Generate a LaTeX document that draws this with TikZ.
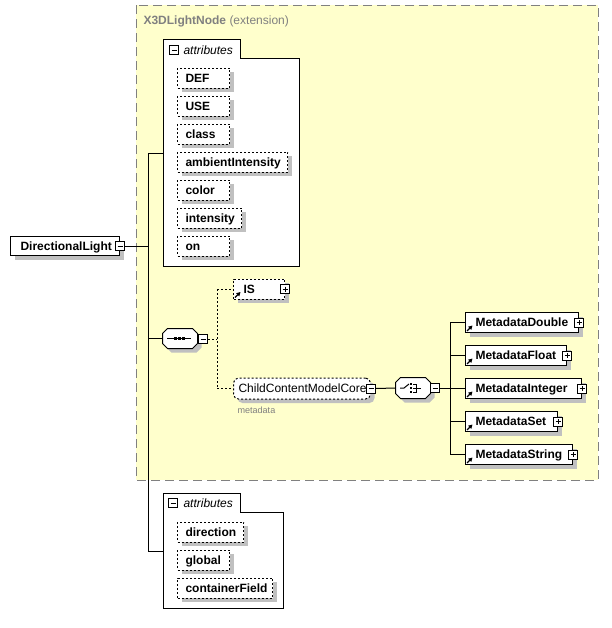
\documentclass[tikz,border=0pt]{standalone}
\usepackage{fontspec}
\setmainfont{Liberation Sans}
\usetikzlibrary{shadows,arrows.meta}
\newdimen\px \px=0.75pt
\definecolor{bgyellow}{RGB}{255,255,204}
\definecolor{shgray}{RGB}{192,192,192}
\definecolor{bordgray}{RGB}{128,128,128}
\newcommand\xsdfont{\fontsize{9}{10}\selectfont}
\newcommand\xssmall{\fontsize{6.8}{8}\selectfont}
% octagon outline around a node, shifted by (#2,#3)
\newcommand\xsoctpath[3]{([shift={(5\px+#2,#3)}]#1.north west) -- ([shift={(-5\px+#2,#3)}]#1.north east) -- ([shift={(#2,-5\px+#3)}]#1.north east) -- ([shift={(#2,5\px+#3)}]#1.south east) -- ([shift={(-5\px+#2,#3)}]#1.south east) -- ([shift={(5\px+#2,#3)}]#1.south west) -- ([shift={(#2,5\px+#3)}]#1.south west) -- ([shift={(#2,-5\px+#3)}]#1.north west) -- cycle}
\newcommand\xsoctagon[1]{%
  \fill[shgray] \xsoctpath{#1}{4\px}{-4\px};
  \draw[fill=white] \xsoctpath{#1}{0pt}{0pt};}
\tikzset{
  shad/.style={drop shadow={shadow xshift=4\px, shadow yshift=-4\px, fill=shgray, opacity=1}},
  txt/.style={font=\xsdfont\bfseries, text height=6.4pt, text depth=0pt},
  xbox/.style={draw, fill=white, anchor=west, inner ysep=0pt, minimum height=20\px, align=left, shad, txt},
  dsh/.style={dash pattern=on 2\px off 2\px},
  attrbox/.style={xbox, dsh, inner xsep=8\px, text width=#1\px},
  elbox/.style={xbox, inner xsep=10\px, text width=#1\px},
  tog/.style={draw, fill=white, rectangle, minimum size=9\px, inner sep=0pt, line width=0.75pt},
  togm/.style={tog, path picture={\draw ([xshift=2\px]path picture bounding box.west) -- ([xshift=-2\px]path picture bounding box.east);}},
  togp/.style={tog, path picture={\draw ([xshift=2\px]path picture bounding box.west) -- ([xshift=-2\px]path picture bounding box.east);
      \draw ([yshift=-2\px]path picture bounding box.north) -- ([yshift=2\px]path picture bounding box.south);}},
  octnode/.style={rectangle, inner sep=0pt, minimum width=34\px, minimum height=19\px},
  container/.style={draw, fill=white},
  tablabel/.style={anchor=west, font=\xsdfont\itshape, text height=6.4pt, text depth=0pt, inner sep=0pt},
  linkarrow/.style={-{Triangle[length=3pt,width=3.2pt]}, line width=1pt},
}
\begin{document}
\begin{tikzpicture}[x=0.75pt,y=-0.75pt,line width=0.75pt]
\useasboundingbox (0,0) rectangle (611,628);

% extension area
\draw[bordgray, fill=bgyellow, dash pattern=on 9\px off 5\px] (136,5) rectangle (598,480);
\node[anchor=west, inner sep=0pt, text=bordgray, font=\xsdfont, text height=6.4pt, text depth=0pt] (title) at (143,20) {\textbf{X3DLightNode} (extension)};

% attributes container 1
\draw[container] (163,39) -- (240,39) -- (240,58) -- (299,58) -- (299,266) -- (163,266) -- cycle;
\node[togm] (tabAt) at (174,50) {};
\node[tablabel] (tabAl) at (183,50) {attributes};
\coordinate (attA) at (163,153);

\node[attrbox=36] (def) at (177,78) {DEF};
\node[attrbox=36] (use) at (177,106) {USE};
\node[attrbox=36] (class) at (177,134) {class};
\node[attrbox=94] (amb) at (177,162) {ambientIntensity};
\node[attrbox=36] (color) at (177,190) {color};
\node[attrbox=48] (inten) at (177,218) {intensity};
\node[attrbox=36] (on) at (177,246) {on};

% attributes container 2
\draw[container] (163,493) -- (240,493) -- (240,512) -- (283,512) -- (283,608) -- (163,608) -- cycle;
\node[togm] (tabBt) at (173,503) {};
\node[tablabel] (tabBl) at (183,503) {attributes};
\coordinate (attB) at (163,551);

\node[attrbox=50] (dir) at (177,532) {direction};
\node[attrbox=36] (glob) at (177,560) {global};
\node[attrbox=79] (cf) at (177,588) {containerField};

% root element
\node[elbox=89, minimum height=19\px] (dl) at (10,246) {DirectionalLight};
\node[togm] (dlt) at (dl.east) {};

% trunk
\coordinate (trunkT) at (148,153);
\coordinate (trunkB) at (148,551);
\draw (attA) -- (trunkT) -- (trunkB) -- (attB);
\draw (dlt.east) -- (dlt.east -| trunkT);

% sequence
\node[octnode] (seq) at (180,338.5) {};
\xsoctagon{seq}
\node[togm] (seqt) at (203,339) {};
\draw (seq.west -| trunkT) -- (seq.west);
\draw ([xshift=-13\px]seq.center) -- ([xshift=11\px]seq.center);
\foreach \dx in {-5,-1,3}{
  \fill ([xshift=\dx\px]seq.center) ++(-1.5\px,-1.5\px) rectangle ++(3\px,3\px);
}

% IS and ChildContentModelCore
\node[elbox=31, dsh] (is) at (233,289) {IS};
\node[togp] (ist) at (is.east) {};
\node[xbox, dsh, rounded corners=5\px, font=\xsdfont, inner xsep=5\px, text width=127\px, minimum height=21\px] (ccmc) at (233,388.5) {ChildContentModelCore};
\node[togm] (ccmct) at (ccmc.east) {};
\node[anchor=west, inner sep=0pt, text=bordgray, font=\xssmall] (mdlabel) at (237,410) {metadata};

\coordinate (sbx) at (217,339);
\draw[dsh] (seqt.east) -- (sbx);
\draw[dsh] (is.west -| sbx) -- (ccmc.west -| sbx);
\draw[dsh] (is.west -| sbx) -- (is.west);
\draw[dsh] (ccmc.west -| sbx) -- (ccmc.west);

% choice
\node[octnode, minimum height=20\px] (ch) at (413,388) {};
\xsoctagon{ch}
\node[togm] (cht) at (435,388) {};
\draw (ccmct.east) -- (ch.west);
\draw ([xshift=-13\px]ch.center) -- ([xshift=-9\px]ch.center) -- ([shift={(-4\px,4\px)}]ch.center);
\foreach \dy in {-4,0,4}{
  \fill ([shift={(-2\px,\dy\px)}]ch.center) ++(-1.25\px,-1.25\px) rectangle ++(2.5\px,2.5\px);
}
\draw ([shift={(0\px,4\px)}]ch.center) -- ([shift={(3\px,4\px)}]ch.center) -- ([shift={(3\px,-4\px)}]ch.center) -- ([shift={(0\px,-4\px)}]ch.center);
\draw (ch.center) -- ([xshift=8\px]ch.center);

\node[elbox=93] (md1) at (465,322.5) {MetadataDouble};
\node[elbox=81] (md2) at (465,355.5) {MetadataFloat};
\node[elbox=96] (md3) at (465,388.5) {MetadataInteger};
\node[elbox=72] (md4) at (465,421.5) {MetadataSet};
\node[elbox=87] (md5) at (465,454.5) {MetadataString};
\foreach \n in {md1,md2,md3,md4,md5}{
  \node[togp] (\n t) at (\n.east) {};
}

\coordinate (cbx) at (450,388);
\draw (cht.east) -- (cbx);
\draw (md1.west -| cbx) -- (md5.west -| cbx);
\foreach \n in {md1,md2,md3,md4,md5}{
  \draw (\n.west -| cbx) -- (\n.west);
}

% link arrows
\foreach \n in {is,md1,md2,md3,md4,md5}{
  \draw[linkarrow] ([shift={(2\px,2\px)}]\n.south west) -- ([shift={(7.5\px,7.5\px)}]\n.south west);
}
\end{tikzpicture}
\end{document}
